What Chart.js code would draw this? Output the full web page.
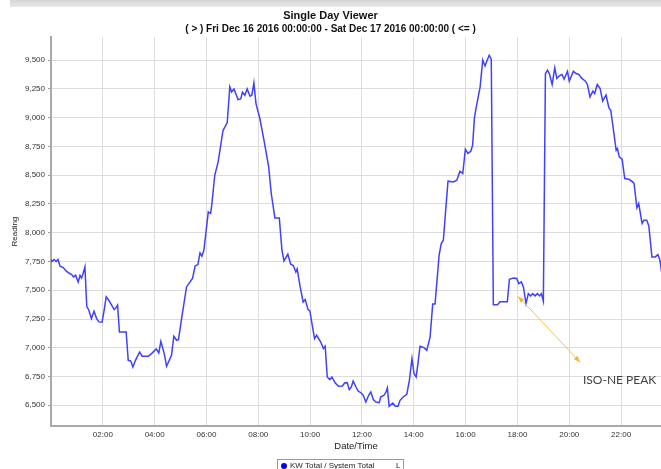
<!DOCTYPE html>
<html>
<head>
<meta charset="utf-8">
<script src="https://cdn.jsdelivr.net/npm/chart.js@4"></script>
<style>
  html, body { margin: 0; padding: 0; background: #fff; }
  #wrap { width: 661px; height: 469px; position: relative; }
</style>
</head>
<body>
<div id="wrap"><canvas id="chart" width="661" height="469"></canvas></div>
<script>
// hours since midnight, Dec 16 2016
const hours = [
  0.00, 0.04, 0.12, 0.20, 0.27, 0.35, 0.47, 0.58, 0.69, 0.79, 0.87, 0.95, 1.05, 1.12, 1.18, 1.23,
  1.31, 1.38, 1.46, 1.56, 1.66, 1.76, 1.85, 1.97, 2.05, 2.13, 2.23, 2.34, 2.44, 2.50, 2.57, 2.64,
  2.90, 2.98, 3.08, 3.16, 3.26, 3.42, 3.52, 3.75, 3.88, 4.06, 4.16, 4.24, 4.37, 4.46, 4.65, 4.74,
  4.85, 4.92, 5.05, 5.23, 5.46, 5.56, 5.67, 5.75, 5.82, 5.90, 6.07, 6.16, 6.21, 6.32, 6.45, 6.64,
  6.80, 6.90, 6.97, 7.06, 7.22, 7.32, 7.39, 7.48, 7.57, 7.68, 7.75, 7.83, 7.91, 8.06, 8.22, 8.40,
  8.50, 8.64, 8.81, 8.91, 8.99, 9.14, 9.25, 9.35, 9.45, 9.50, 9.61, 9.73, 9.81, 9.92, 9.99, 10.06,
  10.17, 10.25, 10.41, 10.51, 10.58, 10.66, 10.76, 10.84, 10.97, 11.10, 11.25, 11.33, 11.43, 11.51, 11.59, 11.66,
  11.77, 11.85, 11.97, 12.05, 12.15, 12.26, 12.34, 12.44, 12.54, 12.67, 12.72, 12.85, 12.93, 12.98, 13.05, 13.19,
  13.29, 13.39, 13.47, 13.59, 13.73, 13.83, 13.93, 14.01, 14.09, 14.16, 14.24, 14.39, 14.50, 14.63, 14.73, 14.82,
  14.98, 15.06, 15.14, 15.32, 15.53, 15.66, 15.78, 15.89, 15.99, 16.09, 16.20, 16.27, 16.34, 16.40, 16.56, 16.66,
  16.75, 16.81, 16.91, 16.99, 17.07, 17.23, 17.33, 17.61, 17.69, 17.84, 17.97, 18.05, 18.15, 18.23, 18.33, 18.42,
  18.51, 18.59, 18.68, 18.77, 18.85, 18.92, 19.00, 19.08, 19.16, 19.23, 19.34, 19.44, 19.52, 19.62, 19.72, 19.80,
  19.93, 20.00, 20.16, 20.26, 20.37, 20.47, 20.62, 20.70, 20.80, 20.91, 20.98, 21.08, 21.19, 21.29, 21.42, 21.53,
  21.60, 21.68, 21.81, 21.86, 21.93, 22.04, 22.14, 22.30, 22.45, 22.50, 22.61, 22.68, 22.81, 22.88, 22.99, 23.07,
  23.19, 23.32, 23.42, 23.50, 23.56, 23.65
];
const kwTotal = [
  7767, 7750, 7767, 7750, 7767, 7710, 7697, 7668, 7650, 7639, 7616, 7630, 7572, 7630, 7607, 7640,
  7703, 7361, 7326, 7254, 7317, 7254, 7225, 7222, 7326, 7442, 7413, 7370, 7332, 7345, 7370, 7137,
  7137, 6891, 6885, 6833, 6891, 6963, 6926, 6926, 6949, 6990, 6955, 7056, 6949, 6839, 6935, 7100,
  7065, 7071, 7268, 7529, 7602, 7709, 7726, 7825, 7796, 7848, 8181, 8167, 8254, 8500, 8616, 8891,
  8955, 9268, 9224, 9250, 9158, 9164, 9222, 9196, 9250, 9187, 9196, 9303, 9123, 8993, 8804, 8572,
  8341, 8129, 8129, 7854, 7755, 7813, 7726, 7715, 7659, 7685, 7535, 7398, 7419, 7332, 7320, 7225,
  7080, 7109, 7050, 6993, 7013, 6746, 6723, 6746, 6694, 6665, 6668, 6694, 6697, 6636, 6659, 6711,
  6659, 6624, 6607, 6587, 6529, 6587, 6616, 6550, 6529, 6523, 6572, 6587, 6616, 6651, 6491, 6520,
  6491, 6491, 6543, 6572, 6595, 6717, 6906, 6776, 6746, 6862, 7013, 7001, 6978, 7094, 7380, 7380,
  7810, 7906, 7935, 8448, 8442, 8457, 8535, 8515, 8726, 8689, 8709, 8761, 8998, 9080, 9268, 9500,
  9450, 9486, 9543, 9509, 7375, 7375, 7400, 7400, 7596, 7607, 7602, 7558, 7573, 7529, 7384, 7471,
  7451, 7471, 7451, 7471, 7451, 7471, 7404, 9384, 9413, 9384, 9289, 9433, 9341, 9364, 9376, 9335,
  9404, 9318, 9404, 9384, 9376, 9346, 9318, 9289, 9181, 9231, 9210, 9289, 9254, 9144, 9196, 9086,
  9065, 8935, 8717, 8732, 8659, 8639, 8471, 8465, 8442, 8428, 8216, 8254, 8080, 8109, 8109, 8059,
  7790, 7790, 7810, 7761, 7660, 7560
];
const xTicks = [2, 4, 6, 8, 10, 12, 14, 16, 18, 20, 22];
const yTicks = [6500, 6750, 7000, 7250, 7500, 7750, 8000, 8250, 8500, 8750, 9000, 9250, 9500];

// ISO-NE peak note: arrow from the dip towards the label
const noteArrow = [[18.02, 7448], [20.42, 6874]];
const noteLabel = { x: 20.53, y: 6717, text: 'ISO-NE PEAK' };

const seriesLabel = 'KW Total / System Total';
const lineColor = '#4040ff';
const FONT = '"Liberation Sans", Arial, sans-serif';

function pad2(n) { return (n < 10 ? '0' : '') + n; }

const decorPlugin = {
  id: 'decor',
  beforeDraw(chart) {
    const ctx = chart.ctx;
    ctx.save();
    const g = ctx.createLinearGradient(0, 0, 0, 8);
    g.addColorStop(0, '#d4d4d4');
    g.addColorStop(1, '#ececec');
    ctx.fillStyle = g;
    ctx.fillRect(10, 0, 651, 7);
    ctx.restore();
  },
  afterDraw(chart) {
    const ctx = chart.ctx;
    const xs = chart.scales.x, ys = chart.scales.y;

    // annotation arrow (double headed)
    const x1 = xs.getPixelForValue(noteArrow[0][0]), y1 = ys.getPixelForValue(noteArrow[0][1]);
    const x2 = xs.getPixelForValue(noteArrow[1][0]), y2 = ys.getPixelForValue(noteArrow[1][1]);
    ctx.save();
    ctx.strokeStyle = '#f7c04a';
    ctx.fillStyle = '#f5b52e';
    ctx.lineWidth = 1;
    ctx.beginPath();
    ctx.moveTo(x1, y1);
    ctx.lineTo(x2, y2);
    ctx.stroke();
    const head = (hx, hy, ang) => {
      ctx.beginPath();
      ctx.moveTo(hx, hy);
      ctx.lineTo(hx - 7 * Math.cos(ang - 0.35), hy - 7 * Math.sin(ang - 0.35));
      ctx.lineTo(hx - 7 * Math.cos(ang + 0.35), hy - 7 * Math.sin(ang + 0.35));
      ctx.closePath();
      ctx.fill();
    };
    const a = Math.atan2(y2 - y1, x2 - x1);
    head(x2, y2, a);
    head(x1, y1, a + Math.PI);

    ctx.fillStyle = '#404040';
    ctx.font = '12px Lato, "Open Sans", sans-serif';
    ctx.textBaseline = 'middle';
    ctx.textAlign = 'left';
    ctx.fillText(noteLabel.text, xs.getPixelForValue(noteLabel.x), ys.getPixelForValue(noteLabel.y));

    // legend box at the bottom (cut off by the window edge)
    ctx.fillStyle = '#fff';
    ctx.strokeStyle = '#9a9a9a';
    ctx.lineWidth = 1;
    ctx.fillRect(277.5, 459.5, 126, 14);
    ctx.strokeRect(277.5, 459.5, 126, 14);
    ctx.fillStyle = '#0000ff';
    ctx.beginPath();
    ctx.arc(284, 466, 3, 0, Math.PI * 2);
    ctx.fill();
    ctx.fillStyle = '#222';
    ctx.font = '8px ' + FONT;
    ctx.fillText(seriesLabel, 290, 466);
    ctx.fillText('L', 396, 466);
    ctx.restore();
  }
};

new Chart(document.getElementById('chart'), {
  type: 'line',
  data: {
    datasets: [{
      label: seriesLabel,
      data: hours.map((h, i) => ({ x: h, y: kwTotal[i] })),
      borderColor: lineColor,
      borderWidth: 1.5,
      pointRadius: 0,
      tension: 0,
      fill: false
    }]
  },
  options: {
    responsive: false,
    animation: false,
    events: [],
    layout: { padding: 0 },
    plugins: {
      legend: { display: false },
      tooltip: { enabled: false },
      title: {
        display: true,
        text: 'Single Day Viewer',
        color: '#111',
        font: { family: FONT, size: 11, weight: 'bold', lineHeight: 1.2 },
        padding: { top: 9, bottom: 1 }
      },
      subtitle: {
        display: true,
        text: '( > ) Fri Dec 16 2016 00:00:00 - Sat Dec 17 2016 00:00:00 ( <= )',
        color: '#111',
        font: { family: FONT, size: 10, weight: 'bold', lineHeight: 1.2 },
        padding: { top: 0, bottom: 2 }
      }
    },
    scales: {
      x: {
        type: 'linear',
        min: 0,
        max: 23.54,
        afterFit(scale) { scale.height = 43; },
        afterBuildTicks(scale) { scale.ticks = xTicks.map(v => ({ value: v })); },
        border: { color: '#a8a8a8', width: 2 },
        grid: { color: '#dcdcdc', borderDash: [2, 2], drawTicks: false },
        ticks: {
          padding: 4,
          color: '#333',
          maxRotation: 0,
          font: { family: FONT, size: 8 },
          callback: v => pad2(v) + ':00'
        },
        title: {
          display: true,
          text: 'Date/Time',
          color: '#222',
          font: { family: FONT, size: 9.5 },
          padding: { top: 0, bottom: 17 }
        }
      },
      y: {
        min: 6320,
        max: 9700,
        afterFit(scale) { scale.width = 51; },
        afterBuildTicks(scale) { scale.ticks = yTicks.map(v => ({ value: v })); },
        border: { color: '#a8a8a8', width: 2 },
        grid: { color: '#dcdcdc', borderDash: [2, 2], tickLength: 3, tickColor: '#999' },
        ticks: {
          padding: 3,
          color: '#333',
          font: { family: FONT, size: 8 },
          callback: v => v.toLocaleString('en-US')
        },
        title: {
          display: true,
          text: 'Reading',
          color: '#222',
          font: { family: FONT, size: 8 },
          padding: { top: 10, bottom: 0 }
        }
      }
    }
  },
  plugins: [decorPlugin]
});
</script>
</body>
</html>
